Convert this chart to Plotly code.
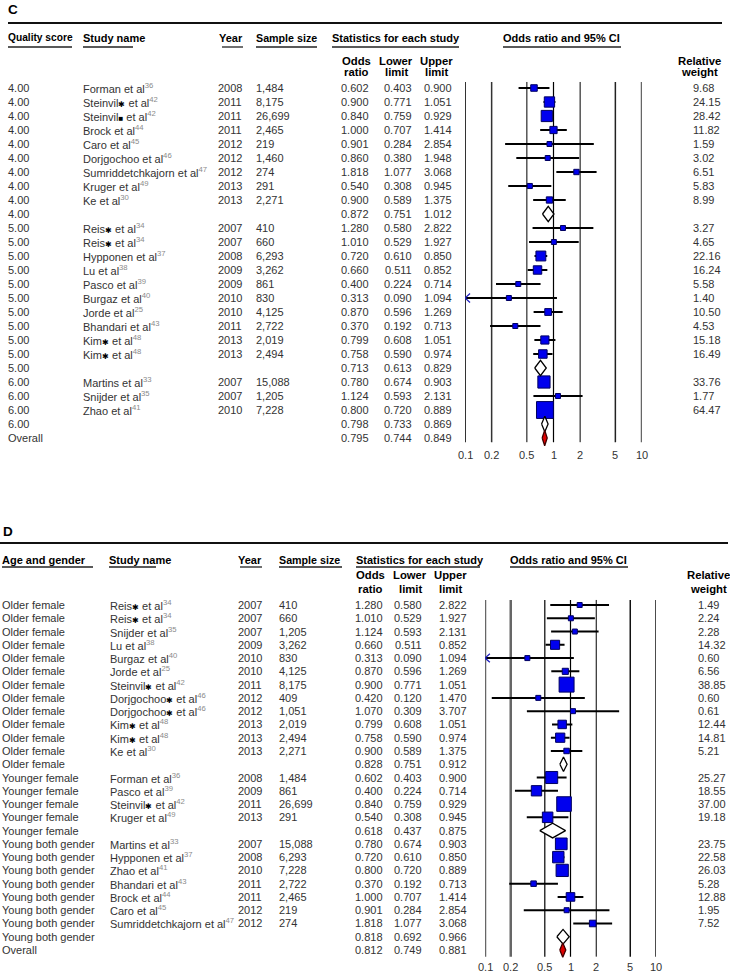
import math
import plotly.graph_objects as go

W, H = 730, 972
FONT = "Liberation Sans, Arial, sans-serif"
TXT = "#333333"

TICK_VALUES = [0.1, 0.2, 0.5, 1, 2, 5, 10]
TICK_LABELS = ["0.1", "0.2", "0.5", "1", "2", "5", "10"]

# ---------------- Panel C : quality score ----------------
C_GROUP = ["4.00"] * 10 + ["5.00"] * 11 + ["6.00"] * 4 + ["Overall"]
C_NAME = ["Forman", "Steinvil✱", "Steinvil■", "Brock", "Caro", "Dorjgochoo",
          "Sumriddetchkajorn", "Kruger", "Ke", "",
          "Reis✱", "Reis✱", "Hypponen", "Lu", "Pasco", "Burgaz", "Jorde",
          "Bhandari", "Kim✱", "Kim✱", "",
          "Martins", "Snijder", "Zhao", "", ""]
C_REF = ["36", "42", "42", "44", "45", "46", "47", "49", "30", "",
         "34", "34", "37", "38", "39", "40", "25", "43", "48", "48", "",
         "33", "35", "41", "", ""]
C_YEAR = ["2008", "2011", "2011", "2011", "2012", "2012", "2012", "2013", "2013", "",
          "2007", "2007", "2008", "2009", "2009", "2010", "2010", "2011", "2013", "2013", "",
          "2007", "2007", "2010", "", ""]
C_SAMPLE = ["1,484", "8,175", "26,699", "2,465", "219", "1,460", "274", "291", "2,271", "",
            "410", "660", "6,293", "3,262", "861", "830", "4,125", "2,722", "2,019", "2,494", "",
            "15,088", "1,205", "7,228", "", ""]
C_OR = [0.602, 0.900, 0.840, 1.000, 0.901, 0.860, 1.818, 0.540, 0.900, 0.872,
        1.280, 1.010, 0.720, 0.660, 0.400, 0.313, 0.870, 0.370, 0.799, 0.758, 0.713,
        0.780, 1.124, 0.800, 0.798, 0.795]
C_LOWER = [0.403, 0.771, 0.759, 0.707, 0.284, 0.380, 1.077, 0.308, 0.589, 0.751,
           0.580, 0.529, 0.610, 0.511, 0.224, 0.090, 0.596, 0.192, 0.608, 0.590, 0.613,
           0.674, 0.593, 0.720, 0.733, 0.744]
C_UPPER = [0.900, 1.051, 0.929, 1.414, 2.854, 1.948, 3.068, 0.945, 1.375, 1.012,
           2.822, 1.927, 0.850, 0.852, 0.714, 1.094, 1.269, 0.713, 1.051, 0.974, 0.829,
           0.903, 2.131, 0.889, 0.869, 0.849]
C_WEIGHT = [9.68, 24.15, 28.42, 11.82, 1.59, 3.02, 6.51, 5.83, 8.99, None,
            3.27, 4.65, 22.16, 16.24, 5.58, 1.40, 10.50, 4.53, 15.18, 16.49, None,
            33.76, 1.77, 64.47, None, None]
C_KIND = ["s"] * 9 + ["g"] + ["s"] * 10 + ["g"] + ["s"] * 3 + ["g"] + ["o"]

# ---------------- Panel D : age and gender ----------------
D_GROUP = ["Older female"] * 13 + ["Younger female"] * 5 + ["Young both gender"] * 8 + ["Overall"]
D_NAME = ["Reis✱", "Reis✱", "Snijder", "Lu", "Burgaz", "Jorde", "Steinvil✱",
          "Dorjgochoo✱", "Dorjgochoo✱", "Kim✱", "Kim✱", "Ke", "",
          "Forman", "Pasco", "Steinvil✱", "Kruger", "",
          "Martins", "Hypponen", "Zhao", "Bhandari", "Brock", "Caro", "Sumriddetchkajorn", "", ""]
D_REF = ["34", "34", "35", "38", "40", "25", "42", "46", "46", "48", "48", "30", "",
         "36", "39", "42", "49", "",
         "33", "37", "41", "43", "44", "45", "47", "", ""]
D_YEAR = ["2007", "2007", "2007", "2009", "2010", "2010", "2011", "2012", "2012", "2013", "2013", "2013", "",
          "2008", "2009", "2011", "2013", "",
          "2007", "2008", "2010", "2011", "2011", "2012", "2012", "", ""]
D_SAMPLE = ["410", "660", "1,205", "3,262", "830", "4,125", "8,175", "409", "1,051", "2,019", "2,494", "2,271", "",
            "1,484", "861", "26,699", "291", "",
            "15,088", "6,293", "7,228", "2,722", "2,465", "219", "274", "", ""]
D_OR = [1.280, 1.010, 1.124, 0.660, 0.313, 0.870, 0.900, 0.420, 1.070, 0.799, 0.758, 0.900, 0.828,
        0.602, 0.400, 0.840, 0.540, 0.618,
        0.780, 0.720, 0.800, 0.370, 1.000, 0.901, 1.818, 0.818, 0.812]
D_LOWER = [0.580, 0.529, 0.593, 0.511, 0.090, 0.596, 0.771, 0.120, 0.309, 0.608, 0.590, 0.589, 0.751,
           0.403, 0.224, 0.759, 0.308, 0.437,
           0.674, 0.610, 0.720, 0.192, 0.707, 0.284, 1.077, 0.692, 0.749]
D_UPPER = [2.822, 1.927, 2.131, 0.852, 1.094, 1.269, 1.051, 1.470, 3.707, 1.051, 0.974, 1.375, 0.912,
           0.900, 0.714, 0.929, 0.945, 0.875,
           0.903, 0.850, 0.889, 0.713, 1.414, 2.854, 3.068, 0.966, 0.881]
D_WEIGHT = [1.49, 2.24, 2.28, 14.32, 0.60, 6.56, 38.85, 0.60, 0.61, 12.44, 14.81, 5.21, None,
            25.27, 18.55, 37.00, 19.18, None,
            23.75, 22.58, 26.03, 5.28, 12.88, 1.95, 7.52, None, None]
D_KIND = ["s"] * 12 + ["g"] + ["s"] * 4 + ["g"] + ["s"] * 7 + ["g"] + ["o"]

# ---------------- layout geometry (pixels) ----------------
PANELS = [
    dict(label="C", label_xy=(8, 9), rule_y=23, rule_x=(8, 722),
         header_y=38, underline_y=47,
         headers=[("Quality score", 8, "left", (8, 72), 10.2),
                  ("Study name", 83, "left", (83, 133), 11),
                  ("Year", 243, "right", (222, 243), 11),
                  ("Sample size", 256, "left", (256, 317), 10.7),
                  ("Statistics for each study", 332, "left", (332, 459), 11),
                  ("Odds ratio and 95% CI", 503, "left", (503, 621), 11)],
         sub=[(("Odds", "ratio"), 356), (("Lower", "limit"), 396),
              (("Upper", "limit"), 436), (("Relative", "weight"), 699)],
         sub_y=(61, 72),
         col_group=8, col_name=83, col_year=242, col_sample=256,
         col_or=369, col_lo=412, col_hi=452, col_w=693,
         x_px=(465, 642), row0_px=74, pitch=14.0, nrows_axis=27.8,
         vline_rows=(0.57, 26.3), tick_row=27.2,
         sq_k=2.1, sq_min=5,
         vstyle={0.1: ("#333", 2), 0.2: ("#333", 1.5), 0.5: ("#000", 1), 1: ("#000", 1.2),
                 2: ("#000", 1), 5: ("#222", 1.5), 10: ("#666", 2.5)},
         data=(C_GROUP, C_NAME, C_REF, C_YEAR, C_SAMPLE, C_OR, C_LOWER, C_UPPER, C_WEIGHT, C_KIND)),
    dict(label="D", label_xy=(3, 531), rule_y=543, rule_x=(0, 728),
         header_y=560, underline_y=567,
         headers=[("Age and gender", 2, "left", (2, 93), 11),
                  ("Study name", 109, "left", (109, 156), 11),
                  ("Year", 262, "right", (240, 262), 11),
                  ("Sample size", 279, "left", (279, 342), 10.7),
                  ("Statistics for each study", 356, "left", (356, 480), 11),
                  ("Odds ratio and 95% CI", 510, "left", (510, 628), 11)],
         sub=[(("Odds", "ratio"), 370), (("Lower", "limit"), 410),
              (("Upper", "limit"), 451), (("Relative", "weight"), 708)],
         sub_y=(575, 589),
         col_group=2, col_name=110, col_year=262, col_sample=279,
         col_or=383, col_lo=422, col_hi=467, col_w=698,
         x_px=(485, 656), row0_px=591.73, pitch=13.27, nrows_axis=28.6,
         vline_rows=(0.62, 27.5), tick_row=28.25,
         sq_k=2.4, sq_min=5,
         vstyle={0.1: ("#666", 2.5), 0.2: ("#666", 2.5), 0.5: ("#333", 1.5), 1: ("#000", 1.2),
                 2: ("#000", 1), 5: ("#111", 1.5), 10: ("#111", 1.5)},
         data=(D_GROUP, D_NAME, D_REF, D_YEAR, D_SAMPLE, D_OR, D_LOWER, D_UPPER, D_WEIGHT, D_KIND)),
]

fig = go.Figure()
annotations = []
shapes = []


def fx(p):
    return p / W


def fy(p):
    return 1 - p / H


def add_text(x, y, s, anchor="left", size=11, bold=False, color=TXT, yref="paper", xref="paper"):
    annotations.append(dict(
        x=(fx(x) if xref == "paper" else x), y=(fy(y) if yref == "paper" else y),
        xref=xref, yref=yref,
        text=(f"<b>{s}</b>" if bold else s), showarrow=False,
        xanchor=anchor, yanchor="middle", borderpad=0, borderwidth=0,
        font=dict(family=FONT, size=size, color=color)))


def fmt_name(name, ref):
    if not name:
        return ""
    if name.endswith("✱") or name.endswith("■"):
        base, mark = name[:-1], name[-1]
        name = f"{base}<span style='font-size:8px;color:#000'>{mark}</span>"
    return f"{name} et al<sup><span style='color:#8a8a8a'>{ref}</span></sup>"


layout_axes = {}
for i, P in enumerate(PANELS):
    sfx = "" if i == 0 else str(i + 1)
    xref, yref = "x" + sfx, "y" + sfx
    row_top = P["row0_px"]
    row_bot = P["row0_px"] + P["nrows_axis"] * P["pitch"]
    layout_axes["xaxis" + sfx] = dict(type="log", range=[-1, 1],
                                      domain=[fx(P["x_px"][0]), fx(P["x_px"][1])],
                                      visible=False, anchor=yref, fixedrange=True)
    layout_axes["yaxis" + sfx] = dict(range=[P["nrows_axis"], 0],
                                      domain=[max(0.0, fy(row_bot)), fy(row_top)],
                                      visible=False, anchor=xref, fixedrange=True)

    add_text(P["label_xy"][0], P["label_xy"][1], P["label"], size=13.5, bold=True, color="#000")
    shapes.append(dict(type="line", xref="paper", yref="paper",
                       x0=fx(P["rule_x"][0]), x1=fx(P["rule_x"][1]),
                       y0=fy(P["rule_y"]), y1=fy(P["rule_y"]),
                       line=dict(color="#111", width=2.2)))
    for (txt, xp, anc, (u0, u1), fs) in P["headers"]:
        add_text(xp, P["header_y"], txt, anchor=anc, size=fs, bold=True, color="#000")
        shapes.append(dict(type="line", xref="paper", yref="paper",
                           x0=fx(u0), x1=fx(u1), y0=fy(P["underline_y"]), y1=fy(P["underline_y"]),
                           line=dict(color="#222", width=1.3)))
    for (lines, xc) in P["sub"]:
        add_text(xc, P["sub_y"][0], lines[0], anchor="center", size=11.3, bold=True, color="#000")
        add_text(xc, P["sub_y"][1], lines[1], anchor="center", size=11.3, bold=True, color="#000")

    group, name, ref, year, sample, orr, lo, hi, wt, kind = P["data"]
    n = len(group)
    rows = list(range(1, n + 1))

    for r, g, nm, rf, yr, sm, o, l, h, w in zip(rows, group, name, ref, year, sample, orr, lo, hi, wt):
        add_text(P["col_group"], r, g, yref=yref)
        if nm:
            add_text(P["col_name"], r, fmt_name(nm, rf), yref=yref)
        if yr:
            add_text(P["col_year"], r, yr, anchor="right", yref=yref)
        if sm:
            add_text(P["col_sample"], r, sm, yref=yref)
        add_text(P["col_or"], r, f"{o:.3f}", anchor="right", yref=yref)
        add_text(P["col_lo"], r, f"{l:.3f}", anchor="right", yref=yref)
        add_text(P["col_hi"], r, f"{h:.3f}", anchor="right", yref=yref)
        if w is not None:
            add_text(P["col_w"], r, f"{w:.2f}", yref=yref)

    # axis tick labels (log axis: annotation x is given as log10 of the value)
    for t, lab in zip(TICK_VALUES, TICK_LABELS):
        lx = min(max(math.log10(t), -0.9999), 0.9999)
        add_text(lx, P["tick_row"], lab, anchor="center", xref=xref, yref=yref)

    y0v, y1v = P["vline_rows"]
    for t in TICK_VALUES:
        col, wd = P["vstyle"][t]
        fig.add_trace(go.Scatter(x=[t, t], y=[y0v, y1v], mode="lines", xaxis=xref, yaxis=yref,
                                 line=dict(color=col, width=wd), hoverinfo="skip", showlegend=False))

    xmin = TICK_VALUES[0]
    cx, cy = [], []
    ax, ay = [], []
    for r, l, h, k in zip(rows, lo, hi, kind):
        if k != "s":
            continue
        cx += [max(l, xmin), h, None]
        cy += [r, r, None]
        if l < xmin:
            ax += [xmin * 1.14, xmin, xmin * 1.14, None]
            ay += [r - 0.32, r, r + 0.32, None]
    fig.add_trace(go.Scatter(x=cx, y=cy, mode="lines", xaxis=xref, yaxis=yref,
                             line=dict(color="#000", width=2), hoverinfo="skip", showlegend=False))
    if ax:
        fig.add_trace(go.Scatter(x=ax, y=ay, mode="lines", xaxis=xref, yaxis=yref,
                                 line=dict(color="#2020c0", width=1.3), hoverinfo="skip",
                                 showlegend=False))

    sx, sy, ss = [], [], []
    for r, o, w, k in zip(rows, orr, wt, kind):
        if k == "s":
            sx.append(o)
            sy.append(r)
            ss.append(max(P["sq_min"], P["sq_k"] * math.sqrt(w)))
    fig.add_trace(go.Scatter(x=sx, y=sy, mode="markers", xaxis=xref, yaxis=yref, cliponaxis=False,
                             marker=dict(symbol="square", size=ss, color="#0000ee", opacity=1,
                                         line=dict(color="#000060", width=1)),
                             hoverinfo="skip", showlegend=False))

    hh = 0.55
    for want, fill in (("g", "#ffffff"), ("o", "#dd0000")):
        dx, dy = [], []
        for r, o, l, h, k in zip(rows, orr, lo, hi, kind):
            if k == want:
                dx += [l, o, h, o, l, None]
                dy += [r, r - hh, r, r + hh, r, None]
        fig.add_trace(go.Scatter(x=dx, y=dy, mode="lines", fill="toself", fillcolor=fill,
                                 xaxis=xref, yaxis=yref,
                                 line=dict(color="#000" if want == "g" else "#400000", width=1.3),
                                 hoverinfo="skip", showlegend=False))

fig.update_layout(
    width=W, height=H, margin=dict(l=0, r=0, t=0, b=0, pad=0),
    paper_bgcolor="#ffffff", plot_bgcolor="rgba(0,0,0,0)",
    showlegend=False, annotations=annotations, shapes=shapes,
    **layout_axes)

fig.write_html("out.html", config={"displayModeBar": False, "staticPlot": True},
               post_script="document.body.style.margin='0px';document.body.style.overflow='hidden';")
